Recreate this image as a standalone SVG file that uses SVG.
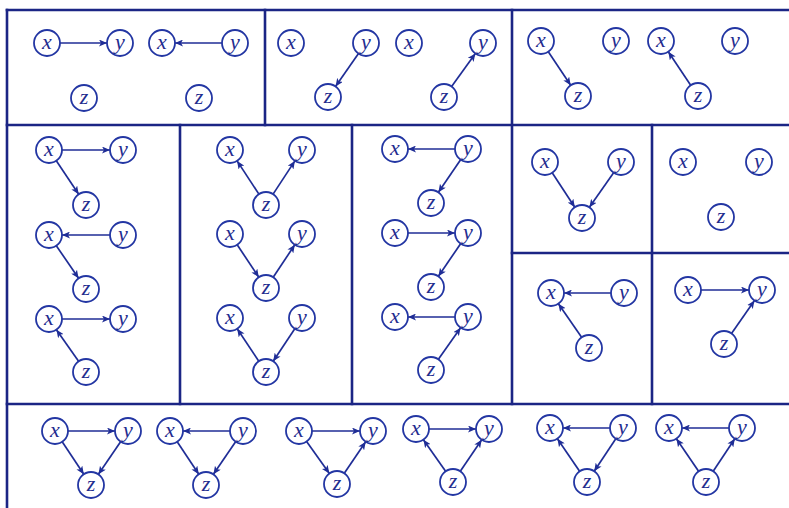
<svg xmlns="http://www.w3.org/2000/svg" width="789" height="508" viewBox="0 0 789 508">
<defs>
<marker id="ah" markerWidth="9" markerHeight="7" refX="8" refY="3.5" orient="auto" markerUnits="userSpaceOnUse">
<path d="M0,0 L8,3.5 L0,7 L2,3.5 z" fill="#1f2d96"/>
</marker>
</defs>
<style>
.frame{stroke:#1b2585;stroke-width:2.6;fill:none;stroke-linecap:square}
.n circle{fill:#fff;stroke:#2336a3;stroke-width:1.8}
.n text{font-family:"Liberation Serif","Times New Roman",serif;font-style:italic;font-size:22px;fill:#1f2d8f;text-anchor:middle;dominant-baseline:central}
.e line{stroke:#1f2d96;stroke-width:1.7;marker-end:url(#ah)}
</style>
<rect width="789" height="508" fill="#fff"/>
<g id="frames" class="frame">
<line x1="7" y1="10" x2="789" y2="10"/>
<line x1="7" y1="10" x2="7" y2="508"/>
<line x1="7" y1="125" x2="789" y2="125"/>
<line x1="265" y1="10" x2="265" y2="125"/>
<line x1="512" y1="10" x2="512" y2="404"/>
<line x1="180" y1="125" x2="180" y2="404"/>
<line x1="352" y1="125" x2="352" y2="404"/>
<line x1="652" y1="125" x2="652" y2="404"/>
<line x1="512" y1="253" x2="789" y2="253"/>
<line x1="7" y1="404" x2="789" y2="404"/>
</g>
<g id="connectors" class="e">
<line x1="60" y1="43" x2="107" y2="43"/>
<line x1="222" y1="43" x2="175" y2="43"/>
<line x1="358.5" y1="53.6" x2="335.5" y2="86.4"/>
<line x1="451.6" y1="86.5" x2="475.4" y2="53.5"/>
<line x1="548.3" y1="51.8" x2="570.7" y2="85.2"/>
<line x1="690.7" y1="85.2" x2="668.3" y2="51.8"/>
<line x1="62" y1="150" x2="110" y2="150"/>
<line x1="56.3" y1="160.8" x2="78.7" y2="194.2"/>
<line x1="110" y1="235" x2="62" y2="235"/>
<line x1="56.3" y1="245.7" x2="78.6" y2="278.3"/>
<line x1="62" y1="319" x2="110" y2="319"/>
<line x1="78.6" y1="361.3" x2="56.4" y2="329.7"/>
<line x1="258.9" y1="194.1" x2="237.1" y2="160.9"/>
<line x1="273.1" y1="194.1" x2="294.9" y2="160.9"/>
<line x1="237.2" y1="244.8" x2="258.8" y2="277.2"/>
<line x1="273.2" y1="277.2" x2="294.8" y2="244.8"/>
<line x1="258.8" y1="361.2" x2="237.2" y2="328.8"/>
<line x1="294.8" y1="328.8" x2="273.2" y2="361.2"/>
<line x1="455" y1="149" x2="408" y2="149"/>
<line x1="460.6" y1="159.7" x2="438.4" y2="192.3"/>
<line x1="408" y1="233" x2="455" y2="233"/>
<line x1="460.6" y1="243.7" x2="438.4" y2="276.3"/>
<line x1="455" y1="317" x2="408" y2="317"/>
<line x1="438.4" y1="359.3" x2="460.6" y2="327.7"/>
<line x1="552.2" y1="172.8" x2="574.8" y2="207.2"/>
<line x1="613.6" y1="172.7" x2="589.4" y2="207.3"/>
<line x1="611" y1="293" x2="564" y2="293"/>
<line x1="581.6" y1="337.3" x2="558.4" y2="303.7"/>
<line x1="701" y1="290" x2="749" y2="290"/>
<line x1="731.5" y1="333.4" x2="754.5" y2="300.6"/>
<line x1="68" y1="431" x2="115" y2="431"/>
<line x1="62.2" y1="441.8" x2="83.8" y2="474.2"/>
<line x1="120.6" y1="441.7" x2="98.4" y2="474.3"/>
<line x1="230" y1="431" x2="183" y2="431"/>
<line x1="177.2" y1="441.8" x2="198.8" y2="474.2"/>
<line x1="235.6" y1="441.7" x2="213.4" y2="474.3"/>
<line x1="312" y1="431" x2="360" y2="431"/>
<line x1="306.6" y1="441.6" x2="329.4" y2="473.4"/>
<line x1="344.3" y1="473.2" x2="365.7" y2="441.8"/>
<line x1="429" y1="429" x2="476" y2="429"/>
<line x1="445.6" y1="471.3" x2="423.4" y2="439.7"/>
<line x1="460.3" y1="471.2" x2="481.7" y2="439.8"/>
<line x1="610" y1="428" x2="563" y2="428"/>
<line x1="579.6" y1="471.3" x2="557.4" y2="438.7"/>
<line x1="615.8" y1="438.8" x2="594.2" y2="471.2"/>
<line x1="729" y1="428" x2="682" y2="428"/>
<line x1="698.6" y1="471.3" x2="676.4" y2="438.7"/>
<line x1="713.2" y1="471.2" x2="734.8" y2="438.8"/>
</g>
<g id="a1x1" class="n"><circle cx="47" cy="43" r="13"/><text x="47" y="41">x</text></g>
<g id="a1y1" class="n"><circle cx="120" cy="43" r="13"/><text x="120" y="41">y</text></g>
<g id="a1z1" class="n"><circle cx="84" cy="98" r="13"/><text x="84" y="96">z</text></g>
<g id="a1x2" class="n"><circle cx="162" cy="43" r="13"/><text x="162" y="41">x</text></g>
<g id="a1y2" class="n"><circle cx="235" cy="43" r="13"/><text x="235" y="41">y</text></g>
<g id="a1z2" class="n"><circle cx="199" cy="98" r="13"/><text x="199" y="96">z</text></g>
<g id="a2x1" class="n"><circle cx="291" cy="43" r="13"/><text x="291" y="41">x</text></g>
<g id="a2y1" class="n"><circle cx="366" cy="43" r="13"/><text x="366" y="41">y</text></g>
<g id="a2z1" class="n"><circle cx="328" cy="97" r="13"/><text x="328" y="95">z</text></g>
<g id="a2x2" class="n"><circle cx="409" cy="43" r="13"/><text x="409" y="41">x</text></g>
<g id="a2y2" class="n"><circle cx="483" cy="43" r="13"/><text x="483" y="41">y</text></g>
<g id="a2z2" class="n"><circle cx="444" cy="97" r="13"/><text x="444" y="95">z</text></g>
<g id="a3x1" class="n"><circle cx="541" cy="41" r="13"/><text x="541" y="39">x</text></g>
<g id="a3y1" class="n"><circle cx="616" cy="41" r="13"/><text x="616" y="39">y</text></g>
<g id="a3z1" class="n"><circle cx="578" cy="96" r="13"/><text x="578" y="94">z</text></g>
<g id="a3x2" class="n"><circle cx="661" cy="41" r="13"/><text x="661" y="39">x</text></g>
<g id="a3y2" class="n"><circle cx="735" cy="41" r="13"/><text x="735" y="39">y</text></g>
<g id="a3z2" class="n"><circle cx="698" cy="96" r="13"/><text x="698" y="94">z</text></g>
<g id="b1x1" class="n"><circle cx="49" cy="150" r="13"/><text x="49" y="148">x</text></g>
<g id="b1y1" class="n"><circle cx="123" cy="150" r="13"/><text x="123" y="148">y</text></g>
<g id="b1z1" class="n"><circle cx="86" cy="205" r="13"/><text x="86" y="203">z</text></g>
<g id="b1x2" class="n"><circle cx="49" cy="235" r="13"/><text x="49" y="233">x</text></g>
<g id="b1y2" class="n"><circle cx="123" cy="235" r="13"/><text x="123" y="233">y</text></g>
<g id="b1z2" class="n"><circle cx="86" cy="289" r="13"/><text x="86" y="287">z</text></g>
<g id="b1x3" class="n"><circle cx="49" cy="319" r="13"/><text x="49" y="317">x</text></g>
<g id="b1y3" class="n"><circle cx="123" cy="319" r="13"/><text x="123" y="317">y</text></g>
<g id="b1z3" class="n"><circle cx="86" cy="372" r="13"/><text x="86" y="370">z</text></g>
<g id="b2x1" class="n"><circle cx="230" cy="150" r="13"/><text x="230" y="148">x</text></g>
<g id="b2y1" class="n"><circle cx="302" cy="150" r="13"/><text x="302" y="148">y</text></g>
<g id="b2z1" class="n"><circle cx="266" cy="205" r="13"/><text x="266" y="203">z</text></g>
<g id="b2x2" class="n"><circle cx="230" cy="234" r="13"/><text x="230" y="232">x</text></g>
<g id="b2y2" class="n"><circle cx="302" cy="234" r="13"/><text x="302" y="232">y</text></g>
<g id="b2z2" class="n"><circle cx="266" cy="288" r="13"/><text x="266" y="286">z</text></g>
<g id="b2x3" class="n"><circle cx="230" cy="318" r="13"/><text x="230" y="316">x</text></g>
<g id="b2y3" class="n"><circle cx="302" cy="318" r="13"/><text x="302" y="316">y</text></g>
<g id="b2z3" class="n"><circle cx="266" cy="372" r="13"/><text x="266" y="370">z</text></g>
<g id="b3x1" class="n"><circle cx="395" cy="149" r="13"/><text x="395" y="147">x</text></g>
<g id="b3y1" class="n"><circle cx="468" cy="149" r="13"/><text x="468" y="147">y</text></g>
<g id="b3z1" class="n"><circle cx="431" cy="203" r="13"/><text x="431" y="201">z</text></g>
<g id="b3x2" class="n"><circle cx="395" cy="233" r="13"/><text x="395" y="231">x</text></g>
<g id="b3y2" class="n"><circle cx="468" cy="233" r="13"/><text x="468" y="231">y</text></g>
<g id="b3z2" class="n"><circle cx="431" cy="287" r="13"/><text x="431" y="285">z</text></g>
<g id="b3x3" class="n"><circle cx="395" cy="317" r="13"/><text x="395" y="315">x</text></g>
<g id="b3y3" class="n"><circle cx="468" cy="317" r="13"/><text x="468" y="315">y</text></g>
<g id="b3z3" class="n"><circle cx="431" cy="370" r="13"/><text x="431" y="368">z</text></g>
<g id="c1x" class="n"><circle cx="545" cy="162" r="13"/><text x="545" y="160">x</text></g>
<g id="c1y" class="n"><circle cx="621" cy="162" r="13"/><text x="621" y="160">y</text></g>
<g id="c1z" class="n"><circle cx="582" cy="218" r="13"/><text x="582" y="216">z</text></g>
<g id="c2x" class="n"><circle cx="683" cy="162" r="13"/><text x="683" y="160">x</text></g>
<g id="c2y" class="n"><circle cx="759" cy="162" r="13"/><text x="759" y="160">y</text></g>
<g id="c2z" class="n"><circle cx="721" cy="217" r="13"/><text x="721" y="215">z</text></g>
<g id="c3x" class="n"><circle cx="551" cy="293" r="13"/><text x="551" y="291">x</text></g>
<g id="c3y" class="n"><circle cx="624" cy="293" r="13"/><text x="624" y="291">y</text></g>
<g id="c3z" class="n"><circle cx="589" cy="348" r="13"/><text x="589" y="346">z</text></g>
<g id="c4x" class="n"><circle cx="688" cy="290" r="13"/><text x="688" y="288">x</text></g>
<g id="c4y" class="n"><circle cx="762" cy="290" r="13"/><text x="762" y="288">y</text></g>
<g id="c4z" class="n"><circle cx="724" cy="344" r="13"/><text x="724" y="342">z</text></g>
<g id="d1x" class="n"><circle cx="55" cy="431" r="13"/><text x="55" y="429">x</text></g>
<g id="d1y" class="n"><circle cx="128" cy="431" r="13"/><text x="128" y="429">y</text></g>
<g id="d1z" class="n"><circle cx="91" cy="485" r="13"/><text x="91" y="483">z</text></g>
<g id="d2x" class="n"><circle cx="170" cy="431" r="13"/><text x="170" y="429">x</text></g>
<g id="d2y" class="n"><circle cx="243" cy="431" r="13"/><text x="243" y="429">y</text></g>
<g id="d2z" class="n"><circle cx="206" cy="485" r="13"/><text x="206" y="483">z</text></g>
<g id="d3x" class="n"><circle cx="299" cy="431" r="13"/><text x="299" y="429">x</text></g>
<g id="d3y" class="n"><circle cx="373" cy="431" r="13"/><text x="373" y="429">y</text></g>
<g id="d3z" class="n"><circle cx="337" cy="484" r="13"/><text x="337" y="482">z</text></g>
<g id="d4x" class="n"><circle cx="416" cy="429" r="13"/><text x="416" y="427">x</text></g>
<g id="d4y" class="n"><circle cx="489" cy="429" r="13"/><text x="489" y="427">y</text></g>
<g id="d4z" class="n"><circle cx="453" cy="482" r="13"/><text x="453" y="480">z</text></g>
<g id="d5x" class="n"><circle cx="550" cy="428" r="13"/><text x="550" y="426">x</text></g>
<g id="d5y" class="n"><circle cx="623" cy="428" r="13"/><text x="623" y="426">y</text></g>
<g id="d5z" class="n"><circle cx="587" cy="482" r="13"/><text x="587" y="480">z</text></g>
<g id="d6x" class="n"><circle cx="669" cy="428" r="13"/><text x="669" y="426">x</text></g>
<g id="d6y" class="n"><circle cx="742" cy="428" r="13"/><text x="742" y="426">y</text></g>
<g id="d6z" class="n"><circle cx="706" cy="482" r="13"/><text x="706" y="480">z</text></g>
</svg>
